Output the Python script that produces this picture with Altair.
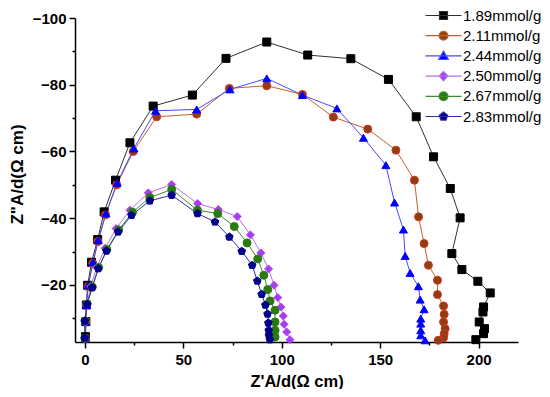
import altair as alt
import pandas as pd

series_names = ["1.89mmol/g", "2.11mmol/g", "2.44mmol/g", "2.50mmol/g", "2.67mmol/g", "2.83mmol/g"]

x_189 = [0.3, 0.5, 0.8, 1.4, 3.4, 6.5, 9.8, 15.6, 22.9, 34.7, 54.6, 71.7, 92.4, 113.2, 135.1, 154.2, 168.3, 177.1,
         185.6, 190.6, 186.4, 191.5, 199.6, 205.9, 202.5, 202.2, 200.3, 203.0, 202.5, 198.6]
y_189 = [-4.5, -9.0, -14.0, -19.9, -26.8, -33.6, -41.9, -51.4, -62.6, -73.6, -76.9, -87.9, -92.8, -88.9, -87.8, -81.6,
         -70.4, -58.4, -48.9, -40.1, -29.4, -24.6, -21.1, -17.6, -13.4, -11.9, -8.9, -6.9, -5.4, -3.6]

x_211 = [0.3, 0.5, 0.9, 1.6, 4.0, 6.6, 10.5, 16.2, 24.6, 36.5, 56.8, 73.4, 92.4, 110.5, 126.2, 143.7, 158.0, 167.4,
         169.5, 172.3, 174.5, 179.1, 179.1, 182.2, 182.5, 182.2, 183.0, 182.5, 182.2, 179.5]
y_211 = [-4.0, -9.0, -14.0, -19.5, -26.5, -33.0, -41.0, -50.0, -60.0, -70.4, -71.2, -78.9, -79.7, -77.1, -70.3, -66.7,
         -60.4, -51.4, -40.4, -32.4, -25.9, -21.4, -17.1, -13.7, -11.2, -8.9, -6.9, -5.4, -4.2, -3.4]

x_244 = [0.3, 0.5, 0.9, 1.7, 4.2, 6.8, 10.7, 16.4, 24.9, 35.9, 56.8, 73.7, 92.4, 110.5, 128.0, 141.5, 152.9, 157.3,
         161.8, 162.7, 165.2, 169.4, 170.3, 172.3, 170.6, 170.6, 170.6, 170.6, 172.8]
y_244 = [-4.0, -9.0, -14.0, -19.9, -26.8, -33.4, -41.4, -50.6, -60.9, -72.2, -72.6, -78.6, -81.9, -76.9, -72.9, -64.1,
         -55.9, -44.7, -36.6, -28.7, -23.6, -19.6, -15.6, -12.7, -9.9, -8.4, -6.4, -4.9, -3.4]

x_250 = [0.0, 0.2, 1.1, 3.0, 6.0, 10.3, 15.9, 22.9, 32.2, 44.1, 57.3, 67.8, 77.4, 84.1, 89.4, 93.3, 96.1, 98.0, 99.6,
         100.8, 101.2, 102.5, 104.2]
y_250 = [-4.0, -9.0, -14.3, -19.6, -25.3, -31.0, -36.9, -42.4, -47.6, -50.1, -44.4, -42.6, -40.5, -35.0, -29.6, -24.8,
         -19.9, -16.2, -13.4, -10.7, -8.2, -5.9, -3.6]

x_267 = [0.0, 0.1, 1.2, 3.8, 7.0, 11.2, 17.2, 24.2, 33.0, 44.1, 57.2, 67.5, 75.9, 82.4, 87.8, 90.9, 92.9, 94.1, 96.6,
         96.6, 96.6, 96.6]
y_267 = [-4.0, -9.2, -14.3, -19.4, -25.2, -30.6, -36.5, -41.8, -46.2, -48.6, -42.4, -41.4, -37.5, -32.6, -27.8, -22.9,
         -18.6, -15.2, -12.4, -8.9, -6.4, -4.4]

x_283 = [0.0, 0.0, 1.2, 3.7, 6.8, 11.0, 16.9, 23.7, 33.0, 44.1, 57.2, 66.1, 73.4, 79.7, 85.0, 87.6, 89.8, 91.7, 92.8,
         93.2, 93.4, 93.5, 94.0]
y_283 = [-4.1, -9.2, -14.2, -19.2, -24.9, -30.2, -35.9, -40.9, -45.2, -46.9, -41.4, -38.9, -34.4, -30.1, -25.9, -21.2,
         -17.2, -14.0, -11.3, -8.6, -6.4, -4.9, -3.6]

x_ticks = [0, 25, 50, 75, 100, 125, 150, 175, 200]
y_ticks = [-100, -90, -80, -70, -60, -50, -40, -30, -20, -10]

all_x = [x_189, x_211, x_244, x_250, x_267, x_283]
all_y = [y_189, y_211, y_244, y_250, y_267, y_283]

rows = []
for name, xs, ys in zip(series_names, all_x, all_y):
    for i, (a, b) in enumerate(zip(xs, ys)):
        rows.append({"series": name, "x": a, "y": b, "idx": i})
df = pd.DataFrame(rows)

line_colors = ["#303030", "#C0602C", "#4848FF", "#B070F0", "#3C8C28", "#3030A0"]
fill_colors = ["#000000", "#8B4013", "#0000FF", "#A040F0", "#2A7A10", "#00008B"]
stroke_colors = ["#000000", "#E0301E", "#0000FF", "#C040F0", "#2A7A10", "#00008B"]

pent = "M0,-1L0.951,-0.309L0.588,0.809L-0.588,0.809L-0.951,-0.309Z"
point_shapes = ["square", "circle", "triangle-up", "diamond", "circle", pent]
point_sizes = [64, 64, 80, 80, 64, 80]

ln = "M-4.5,0H4.5"
legend_shapes = [
    ln + "M-1,-1H1V1H-1Z",
    ln + "M-1.1,0A1.1,1.1 0 1,1 1.1,0A1.1,1.1 0 1,1 -1.1,0Z",
    ln + "M0,-1.2L1.2,0.9H-1.2Z",
    ln + "M0,-1.2L1.1,0L0,1.2L-1.1,0Z",
    ln + "M-1.1,0A1.1,1.1 0 1,1 1.1,0A1.1,1.1 0 1,1 -1.1,0Z",
    ln + "M0,-1.1L1.05,-0.34L0.65,0.89L-0.65,0.89L-1.05,-0.34Z",
]

x_enc = alt.X(
    "x:Q",
    scale=alt.Scale(domain=[-5, 220], nice=False, zero=False),
    axis=alt.Axis(
        values=x_ticks,
        labelExpr="datum.value % 50 === 0 ? datum.label : ''",
        tickSize={"condition": {"test": "datum.value % 50 === 0", "value": 6}, "value": 3},
        title="Z'A/d(\u03a9 cm)",
        labelPadding=4,
        titlePadding=6,
        titleFontSize=16.5,
    ),
)
y_enc = alt.Y(
    "y:Q",
    scale=alt.Scale(domain=[-100, -2.9], reverse=True, nice=False, zero=False),
    axis=alt.Axis(
        values=y_ticks,
        labelExpr="datum.value % 20 === 0 ? datum.label : ''",
        tickSize={"condition": {"test": "datum.value % 20 === 0", "value": 6}, "value": 3},
        title="Z\"A/d(\u03a9 cm)",
        labelPadding=3,
        titleX=-58,
        titleY=156,
        titleBaseline="middle",
        titleFontSize=17,
    ),
)

lines = alt.Chart(df).mark_line(strokeWidth=1).encode(
    x=x_enc,
    y=y_enc,
    color=alt.Color("series:N", scale=alt.Scale(domain=series_names, range=line_colors), legend=None),
    detail="series:N",
    order="idx:Q",
)

points = alt.Chart(df).mark_point(filled=True, opacity=1, strokeWidth=1).encode(
    x=x_enc,
    y=y_enc,
    fill=alt.Fill("series:N", scale=alt.Scale(domain=series_names, range=fill_colors), legend=None),
    stroke=alt.Stroke("series:N", scale=alt.Scale(domain=series_names, range=stroke_colors), legend=None),
    shape=alt.Shape("series:N", scale=alt.Scale(domain=series_names, range=point_shapes), legend=None),
    size=alt.Size("series:O", scale=alt.Scale(domain=series_names, range=point_sizes), legend=None),
)

leg = dict(
    title=None,
    orient="none",
    legendX=361,
    legendY=-10,
    labelFontSize=15,
    labelFont="Liberation Sans",
    labelColor="#000000",
    labelOffset=12,
    symbolSize=64,
    symbolStrokeWidth=1.2,
    rowPadding=4.2,
    padding=0,
)

legend_layer = alt.Chart(df).transform_filter("false").mark_point(filled=True, opacity=1, strokeWidth=1.2).encode(
    fill=alt.Fill("series:N", scale=alt.Scale(domain=series_names, range=fill_colors), legend=alt.Legend(**leg)),
    stroke=alt.Stroke("series:N", scale=alt.Scale(domain=series_names, range=line_colors), legend=alt.Legend(**leg)),
    shape=alt.Shape("series:N", scale=alt.Scale(domain=series_names, range=legend_shapes), legend=alt.Legend(**leg)),
)

chart = alt.layer(lines, points, legend_layer).resolve_scale(
    fill="independent", stroke="independent", shape="independent"
).properties(
    width=443,
    height=324,
    autosize=alt.AutoSizeParams(type="none"),
    padding={"left": 67, "top": 10, "right": 24, "bottom": 47},
).configure_view(stroke=None).configure_axis(
    grid=False,
    domainColor="#000000",
    domainWidth=1.5,
    tickColor="#000000",
    tickWidth=1.5,
    labelFont="Liberation Sans",
    labelFontWeight="bold",
    labelFontSize=15,
    labelColor="#000000",
    titleFont="Liberation Sans",
    titleFontWeight="bold",
    titleColor="#000000",
)

chart.save("out.html", embed_options={"renderer": "svg", "actions": False})
